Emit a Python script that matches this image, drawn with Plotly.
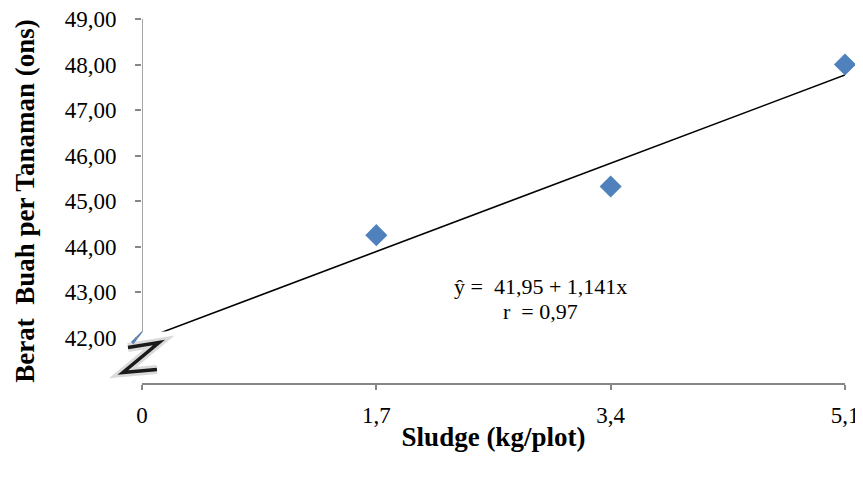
import plotly.graph_objects as go

sludge = [0, 1.7, 3.4, 5.1]
berat = [41.9, 44.25, 45.32, 48.0]
tick_labels = ["0", "1,7", "3,4", "5,1"]
y_ticks = [42, 43, 44, 45, 46, 47, 48, 49]
y_tick_labels = ["42,00", "43,00", "44,00", "45,00", "46,00", "47,00", "48,00", "49,00"]
intercept = 41.95
slope = 1.141

font = "Liberation Serif"
axis_col = "#868686"

fig = go.Figure()
fig.add_trace(go.Scatter(
    x=[sludge[0], sludge[-1]],
    y=[intercept + slope * sludge[0], intercept + slope * sludge[-1]],
    mode="lines", line=dict(color="black", width=1.6), hoverinfo="skip"))
fig.add_trace(go.Scatter(
    x=sludge, y=berat, mode="markers",
    marker=dict(symbol="diamond", size=17, color="#4F81BD", line=dict(width=0)),
    cliponaxis=False))

# y-axis line (broken near the bottom)
fig.add_shape(type="line", xref="x", yref="y", x0=0, x1=0, y0=42.05, y1=49,
              line=dict(color=axis_col, width=1.5), layer="above")
# white patch of the axis-break image (paper coordinates, not clipped)
fig.add_shape(type="path", xref="paper", yref="paper",
              path="M 0.0014,0.1412 L 0.0371,0.1412 L 0.0371,0.0075 L -0.0341,0.0075 L -0.0341,0.1025 L -0.0137,0.1025 Z",
              fillcolor="white", line=dict(width=0), layer="above")
# break "Z" symbol (halo + stroke)
zpath = "M -0.0199,0.0975 L 0.0242,0.1112 L -0.0271,0.029 L 0.0213,0.0372"
fig.add_shape(type="path", xref="paper", yref="paper", path=zpath,
              line=dict(color="rgba(150,150,150,0.35)", width=9), layer="above")
fig.add_shape(type="path", xref="paper", yref="paper", path=zpath,
              line=dict(color="#1a1a1a", width=3.5), layer="above")

fig.add_annotation(x=2.89, y=43.12, xref="x", yref="y", showarrow=False,
                   text="ŷ =  41,95 + 1,141x", font=dict(family=font, size=22, color="black"))
fig.add_annotation(x=2.89, y=42.58, xref="x", yref="y", showarrow=False,
                   text="r  = 0,97", font=dict(family=font, size=22, color="black"))

fig.update_layout(
    width=855, height=468,
    margin=dict(l=134, r=18, t=11, b=93),
    paper_bgcolor="white", plot_bgcolor="white",
    showlegend=False,
    font=dict(family=font, size=23, color="black"),
    xaxis=dict(
        range=[0, 5.1], tickvals=sludge, ticktext=tick_labels,
        showgrid=False, zeroline=False, showline=True, linecolor=axis_col, linewidth=1.5,
        ticks="outside", ticklen=5, tickcolor=axis_col, tickwidth=1.5,
        ticklabelstandoff=6, tickfont=dict(family=font, size=23),
        ticklabeloverflow="allow", automargin=False,
        title=dict(text="<b>Sludge (kg/plot)</b>", standoff=0, font=dict(family=font, size=27)),
    ),
    yaxis=dict(
        range=[41, 49], tickvals=y_ticks, ticktext=y_tick_labels,
        showgrid=False, zeroline=False, showline=False,
        ticks="outside", ticklen=6, tickcolor=axis_col, tickwidth=1.5,
        ticklabelstandoff=14, tickfont=dict(family=font, size=23),
        ticklabeloverflow="allow", automargin=False,
        title=dict(text="<b>Berat  Buah per Tanaman (ons)</b>", standoff=22, font=dict(family=font, size=27)),
    ),
)

fig.write_html("out.html")
